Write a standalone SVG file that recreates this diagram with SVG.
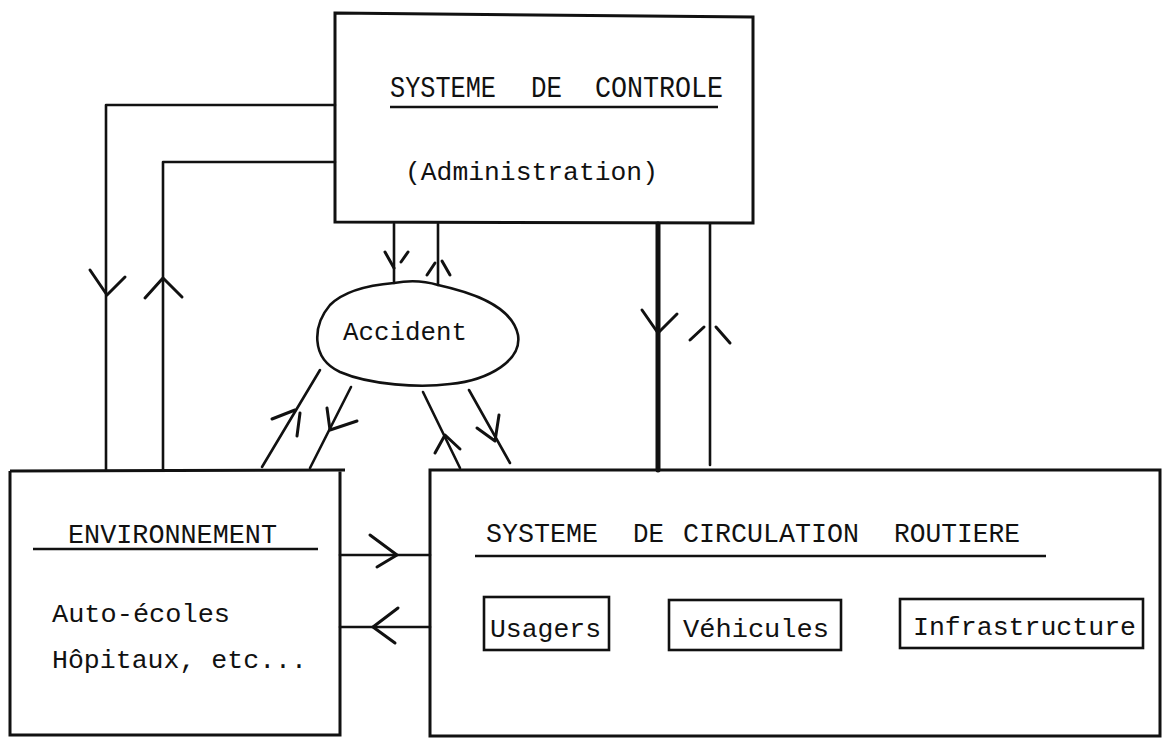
<svg xmlns="http://www.w3.org/2000/svg" width="1163" height="739" viewBox="0 0 1163 739">
  <style>
    .box { fill: none; stroke: #111; stroke-width: 3; stroke-linejoin: miter; }
    .sub { fill: none; stroke: #111; stroke-width: 2.6; }
    .rule { fill: none; stroke: #111; stroke-width: 2.4; }
    .wire { fill: none; stroke: #111; stroke-width: 2.6; stroke-linecap: round; stroke-linejoin: round; }
    .heavy { stroke-width: 5; }
    .head { fill: none; stroke: #111; stroke-width: 3; stroke-linecap: round; stroke-linejoin: round; }
    .t { font-family: "Liberation Mono", "DejaVu Sans Mono", monospace; font-size: 26.5px; fill: #111; }
    .cap { font-size: 28px; }
    .big { font-size: 30px; }
  </style>
  <rect width="1163" height="739" fill="#fff"/>

  <!-- control system (administration) -->
  <g id="controle">
    <path class="box" d="M335,13 L753,17 L753,223 L335,222 Z"/>
    <text class="t big" y="97"><tspan x="390" textLength="106" lengthAdjust="spacingAndGlyphs">SYSTEME</tspan><tspan x="531" textLength="31" lengthAdjust="spacingAndGlyphs">DE</tspan><tspan x="595" textLength="128" lengthAdjust="spacingAndGlyphs">CONTROLE</tspan></text>
    <line class="rule" x1="390" y1="107" x2="718" y2="107"/>
    <text class="t" x="405" y="180" textLength="253" lengthAdjust="spacingAndGlyphs">(Administration)</text>
  </g>

  <!-- accident blob -->
  <g id="accident">
    <path class="sub" d="M394,283 C410,280 425,281 438,285 C470,292 512,305 518,335 C522,360 490,380 450,384 C420,388 370,385 340,372 C310,358 313,325 330,305 C345,290 370,285 394,283 Z"/>
    <text class="t" x="343" y="340" textLength="124" lengthAdjust="spacingAndGlyphs">Accident</text>
  </g>

  <!-- environment -->
  <g id="environnement">
    <path class="box" d="M10,471 L345,470 M340,470 L340,735 L10,735 L10,471"/>
    <text class="t cap" x="68" y="543" textLength="209" lengthAdjust="spacingAndGlyphs">ENVIRONNEMENT</text>
    <line class="rule" x1="33" y1="549" x2="318" y2="549"/>
    <text class="t" x="52" y="622" textLength="178" lengthAdjust="spacingAndGlyphs">Auto-écoles</text>
    <text class="t" x="52" y="668" textLength="255" lengthAdjust="spacingAndGlyphs">Hôpitaux, etc...</text>
  </g>

  <!-- road traffic system -->
  <g id="circulation">
    <path class="box" d="M430,470 L1160,470 L1160,736 L430,736 Z"/>
    <text class="t cap" y="542"><tspan x="486" textLength="112" lengthAdjust="spacingAndGlyphs">SYSTEME</tspan><tspan x="633" textLength="31" lengthAdjust="spacingAndGlyphs">DE</tspan><tspan x="683" textLength="176" lengthAdjust="spacingAndGlyphs">CIRCULATION</tspan><tspan x="894" textLength="126" lengthAdjust="spacingAndGlyphs">ROUTIERE</tspan></text>
    <line class="rule" x1="475" y1="556" x2="1046" y2="556"/>
    <g id="usagers">
      <rect class="sub" x="484" y="597" width="125" height="53"/>
      <text class="t" x="490" y="637" textLength="111" lengthAdjust="spacingAndGlyphs">Usagers</text>
    </g>
    <g id="vehicules">
      <rect class="sub" x="669" y="600" width="172" height="50"/>
      <text class="t" x="683" y="637" textLength="146" lengthAdjust="spacingAndGlyphs">Véhicules</text>
    </g>
    <g id="infrastructure">
      <rect class="sub" x="900" y="599" width="243" height="49"/>
      <text class="t" x="913" y="635" textLength="223" lengthAdjust="spacingAndGlyphs">Infrastructure</text>
    </g>
  </g>

  <!-- connectors -->
  <g id="connectors">
    <!-- administration to environment (outer, down) -->
    <path class="wire" d="M335,105 H106 V470"/>
    <path class="head" d="M90,270 L107,295 L125,277"/>
    <!-- environment to administration (inner, up) -->
    <path class="wire" d="M335,162 H163 V470"/>
    <path class="head" d="M145,298 L163,278 L182,297"/>

    <!-- administration <-> accident -->
    <path class="wire" d="M394,224 V283"/>
    <path class="head" d="M385,252 L394,268 M408,252 L401,262"/>
    <path class="wire" d="M438,224 V285"/>
    <path class="head" d="M427,275 L435,263 M442,261 L450,275"/>

    <!-- accident <-> environment -->
    <path class="wire" d="M320,370 L262,467"/>
    <path class="head" d="M272,419 L295,410 M300,413 L297,436"/>
    <path class="wire" d="M351,387 L310,468"/>
    <path class="head" d="M327,408 L330,430 L357,421"/>

    <!-- accident <-> road traffic system -->
    <path class="wire" d="M423,392 L460,468"/>
    <path class="head" d="M435,453 L445,435 L460,449"/>
    <path class="wire" d="M469,390 L510,463"/>
    <path class="head" d="M477,428 L495,441 L499,415"/>

    <!-- administration <-> road traffic system -->
    <path class="wire heavy" d="M658,224 V470"/>
    <path class="head" d="M642,310 L658,333 L677,314"/>
    <path class="wire" d="M710,224 V465"/>
    <path class="head" d="M690,340 L704,327 M716,327 L730,343"/>

    <!-- environment <-> road traffic system -->
    <path class="wire" d="M340,555 H430"/>
    <path class="head" d="M370,535 L397,555 L377,567"/>
    <path class="wire" d="M340,627 H430"/>
    <path class="head" d="M398,608 L373,627 L395,643"/>
  </g>
</svg>
